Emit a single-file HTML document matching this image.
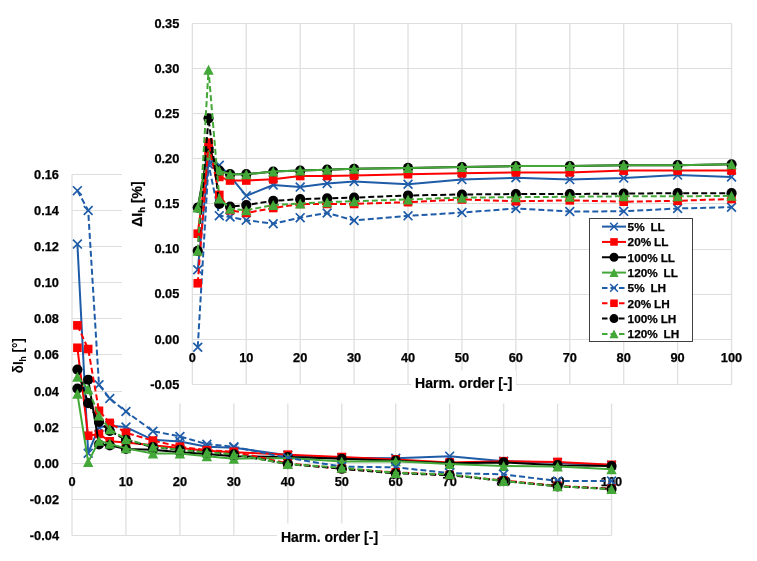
<!DOCTYPE html>
<html><head><meta charset="utf-8"><style>
html,body{margin:0;padding:0;background:#fff;width:757px;height:561px;overflow:hidden}
svg{display:block;filter:blur(0.35px)}
text{font-family:"Liberation Sans",sans-serif;fill:#000}
.tick text{font-size:12.8px;font-weight:bold;stroke:#000;stroke-width:0.25px}
.ttl{font-size:14px;font-weight:bold;stroke:#000;stroke-width:0.2px}
.ttlr{font-size:14px;font-weight:bold}
.sub2{font-size:9px}
.sub{font-size:9.5px}
.leg{font-size:11.8px;word-spacing:-0.4px;font-weight:bold;white-space:pre;stroke:#000;stroke-width:0.25px}
</style></head><body>
<svg width="757" height="561" viewBox="0 0 757 561">
<rect width="757" height="561" fill="#fff"/>
<g><line x1="72" y1="174.5" x2="72" y2="535.5" stroke="#E0E0E0" stroke-width="1.35"/><line x1="125.95" y1="174.5" x2="125.95" y2="535.5" stroke="#E0E0E0" stroke-width="1.35"/><line x1="179.91" y1="174.5" x2="179.91" y2="535.5" stroke="#E0E0E0" stroke-width="1.35"/><line x1="233.87" y1="174.5" x2="233.87" y2="535.5" stroke="#E0E0E0" stroke-width="1.35"/><line x1="287.82" y1="174.5" x2="287.82" y2="535.5" stroke="#E0E0E0" stroke-width="1.35"/><line x1="341.78" y1="174.5" x2="341.78" y2="535.5" stroke="#E0E0E0" stroke-width="1.35"/><line x1="395.73" y1="174.5" x2="395.73" y2="535.5" stroke="#E0E0E0" stroke-width="1.35"/><line x1="449.69" y1="174.5" x2="449.69" y2="535.5" stroke="#E0E0E0" stroke-width="1.35"/><line x1="503.64" y1="174.5" x2="503.64" y2="535.5" stroke="#E0E0E0" stroke-width="1.35"/><line x1="557.6" y1="174.5" x2="557.6" y2="535.5" stroke="#E0E0E0" stroke-width="1.35"/><line x1="611.55" y1="174.5" x2="611.55" y2="535.5" stroke="#E0E0E0" stroke-width="1.35"/><line x1="72" y1="535.5" x2="611.55" y2="535.5" stroke="#DEDEDE" stroke-width="1"/><line x1="72" y1="499.5" x2="611.55" y2="499.5" stroke="#DEDEDE" stroke-width="1"/><line x1="72" y1="463.5" x2="611.55" y2="463.5" stroke="#DEDEDE" stroke-width="1"/><line x1="72" y1="427.5" x2="611.55" y2="427.5" stroke="#DEDEDE" stroke-width="1"/><line x1="72" y1="391.5" x2="611.55" y2="391.5" stroke="#DEDEDE" stroke-width="1"/><line x1="72" y1="354.5" x2="611.55" y2="354.5" stroke="#DEDEDE" stroke-width="1"/><line x1="72" y1="318.5" x2="611.55" y2="318.5" stroke="#DEDEDE" stroke-width="1"/><line x1="72" y1="282.5" x2="611.55" y2="282.5" stroke="#DEDEDE" stroke-width="1"/><line x1="72" y1="246.5" x2="611.55" y2="246.5" stroke="#DEDEDE" stroke-width="1"/><line x1="72" y1="210.5" x2="611.55" y2="210.5" stroke="#DEDEDE" stroke-width="1"/><line x1="72" y1="174.5" x2="611.55" y2="174.5" stroke="#DEDEDE" stroke-width="1"/></g>
<g class="tick"><text x="59" y="539.99" text-anchor="end">-0.04</text><text x="59" y="503.87" text-anchor="end">-0.02</text><text x="59" y="467.75" text-anchor="end">0.00</text><text x="59" y="431.63" text-anchor="end">0.02</text><text x="59" y="395.51" text-anchor="end">0.04</text><text x="59" y="359.39" text-anchor="end">0.06</text><text x="59" y="323.27" text-anchor="end">0.08</text><text x="59" y="287.15" text-anchor="end">0.10</text><text x="59" y="251.03" text-anchor="end">0.12</text><text x="59" y="214.91" text-anchor="end">0.14</text><text x="59" y="178.79" text-anchor="end">0.16</text><text x="72" y="486.4" text-anchor="middle">0</text><text x="125.95" y="486.4" text-anchor="middle">10</text><text x="179.91" y="486.4" text-anchor="middle">20</text><text x="233.87" y="486.4" text-anchor="middle">30</text><text x="287.82" y="486.4" text-anchor="middle">40</text><text x="341.78" y="486.4" text-anchor="middle">50</text><text x="395.73" y="486.4" text-anchor="middle">60</text><text x="449.69" y="486.4" text-anchor="middle">70</text><text x="503.64" y="486.4" text-anchor="middle">80</text><text x="557.6" y="486.4" text-anchor="middle">90</text><text x="611.55" y="486.4" text-anchor="middle">100</text></g>
<path d="M77.4 244.1L88.19 453.24L98.98 427.23L109.77 425.79L125.95 427.05L152.93 439.87L179.91 441.5L206.89 446.73L233.87 447.64L287.82 455.22L341.78 457.75L395.73 458.29L449.69 456.13L503.64 461.18L557.6 462.63L611.55 465.16" stroke="#1F5CA8" stroke-width="2.0" fill="none" stroke-linejoin="round"/>
<path d="M73 239.7L81.8 248.5M73 248.5L81.8 239.7" stroke="#1F5CA8" stroke-width="1.7" fill="none"/>
<path d="M83.79 448.84L92.59 457.64M83.79 457.64L92.59 448.84" stroke="#1F5CA8" stroke-width="1.7" fill="none"/>
<path d="M94.58 422.83L103.38 431.63M94.58 431.63L103.38 422.83" stroke="#1F5CA8" stroke-width="1.7" fill="none"/>
<path d="M105.37 421.39L114.17 430.19M105.37 430.19L114.17 421.39" stroke="#1F5CA8" stroke-width="1.7" fill="none"/>
<path d="M121.55 422.65L130.35 431.45M121.55 431.45L130.35 422.65" stroke="#1F5CA8" stroke-width="1.7" fill="none"/>
<path d="M148.53 435.47L157.33 444.27M148.53 444.27L157.33 435.47" stroke="#1F5CA8" stroke-width="1.7" fill="none"/>
<path d="M175.51 437.1L184.31 445.9M175.51 445.9L184.31 437.1" stroke="#1F5CA8" stroke-width="1.7" fill="none"/>
<path d="M202.49 442.33L211.29 451.13M202.49 451.13L211.29 442.33" stroke="#1F5CA8" stroke-width="1.7" fill="none"/>
<path d="M229.47 443.24L238.27 452.04M229.47 452.04L238.27 443.24" stroke="#1F5CA8" stroke-width="1.7" fill="none"/>
<path d="M283.42 450.82L292.22 459.62M283.42 459.62L292.22 450.82" stroke="#1F5CA8" stroke-width="1.7" fill="none"/>
<path d="M337.38 453.35L346.18 462.15M337.38 462.15L346.18 453.35" stroke="#1F5CA8" stroke-width="1.7" fill="none"/>
<path d="M391.33 453.89L400.13 462.69M391.33 462.69L400.13 453.89" stroke="#1F5CA8" stroke-width="1.7" fill="none"/>
<path d="M445.29 451.73L454.08 460.53M445.29 460.53L454.08 451.73" stroke="#1F5CA8" stroke-width="1.7" fill="none"/>
<path d="M499.24 456.78L508.04 465.58M499.24 465.58L508.04 456.78" stroke="#1F5CA8" stroke-width="1.7" fill="none"/>
<path d="M553.2 458.23L562 467.03M553.2 467.03L562 458.23" stroke="#1F5CA8" stroke-width="1.7" fill="none"/>
<path d="M607.15 460.76L615.95 469.56M607.15 469.56L615.95 460.76" stroke="#1F5CA8" stroke-width="1.7" fill="none"/>
<path d="M77.4 347.77L88.19 435.72L98.98 433.91L109.77 441.32L125.95 442.58L152.93 445.29L179.91 448L206.89 450.71L233.87 452.15L287.82 454.68L341.78 457.03L395.73 459.38L449.69 462.45L503.64 461.18L557.6 461.91L611.55 464.79" stroke="#FF0000" stroke-width="2.0" fill="none" stroke-linejoin="round"/>
<rect x="73.1" y="343.47" width="8.6" height="8.6" fill="#FF0000"/>
<rect x="83.89" y="431.42" width="8.6" height="8.6" fill="#FF0000"/>
<rect x="94.68" y="429.61" width="8.6" height="8.6" fill="#FF0000"/>
<rect x="105.47" y="437.02" width="8.6" height="8.6" fill="#FF0000"/>
<rect x="121.66" y="438.28" width="8.6" height="8.6" fill="#FF0000"/>
<rect x="148.63" y="440.99" width="8.6" height="8.6" fill="#FF0000"/>
<rect x="175.61" y="443.7" width="8.6" height="8.6" fill="#FF0000"/>
<rect x="202.59" y="446.41" width="8.6" height="8.6" fill="#FF0000"/>
<rect x="229.56" y="447.85" width="8.6" height="8.6" fill="#FF0000"/>
<rect x="283.52" y="450.38" width="8.6" height="8.6" fill="#FF0000"/>
<rect x="337.48" y="452.73" width="8.6" height="8.6" fill="#FF0000"/>
<rect x="391.43" y="455.08" width="8.6" height="8.6" fill="#FF0000"/>
<rect x="445.38" y="458.15" width="8.6" height="8.6" fill="#FF0000"/>
<rect x="499.34" y="456.88" width="8.6" height="8.6" fill="#FF0000"/>
<rect x="553.3" y="457.61" width="8.6" height="8.6" fill="#FF0000"/>
<rect x="607.25" y="460.49" width="8.6" height="8.6" fill="#FF0000"/>
<path d="M77.4 388.58L88.19 379.73L98.98 444.39L109.77 445.29L125.95 448.9L152.93 449.81L179.91 452.15L206.89 453.96L233.87 456.13L287.82 457.03L341.78 458.84L395.73 460.64L449.69 463.35L503.64 462.45L557.6 465.16L611.55 466.06" stroke="#000000" stroke-width="2.0" fill="none" stroke-linejoin="round"/>
<circle cx="77.4" cy="388.58" r="5.1" fill="#000000"/>
<circle cx="88.19" cy="379.73" r="5.1" fill="#000000"/>
<circle cx="98.98" cy="444.39" r="5.1" fill="#000000"/>
<circle cx="109.77" cy="445.29" r="5.1" fill="#000000"/>
<circle cx="125.95" cy="448.9" r="5.1" fill="#000000"/>
<circle cx="152.93" cy="449.81" r="5.1" fill="#000000"/>
<circle cx="179.91" cy="452.15" r="5.1" fill="#000000"/>
<circle cx="206.89" cy="453.96" r="5.1" fill="#000000"/>
<circle cx="233.87" cy="456.13" r="5.1" fill="#000000"/>
<circle cx="287.82" cy="457.03" r="5.1" fill="#000000"/>
<circle cx="341.78" cy="458.84" r="5.1" fill="#000000"/>
<circle cx="395.73" cy="460.64" r="5.1" fill="#000000"/>
<circle cx="449.69" cy="463.35" r="5.1" fill="#000000"/>
<circle cx="503.64" cy="462.45" r="5.1" fill="#000000"/>
<circle cx="557.6" cy="465.16" r="5.1" fill="#000000"/>
<circle cx="611.55" cy="466.06" r="5.1" fill="#000000"/>
<path d="M77.4 393.82L88.19 462.09L98.98 440.78L109.77 443.85L125.95 448.36L152.93 453.6L179.91 453.6L206.89 456.13L233.87 458.65L287.82 457.93L341.78 461.54L395.73 461.18L449.69 463.89L503.64 466.06L557.6 466.6L611.55 469.13" stroke="#44A838" stroke-width="2.0" fill="none" stroke-linejoin="round"/>
<path d="M77.4 388.82L82.6 398.82L72.2 398.82Z" fill="#44A838"/>
<path d="M88.19 457.09L93.39 467.09L82.99 467.09Z" fill="#44A838"/>
<path d="M98.98 435.78L104.18 445.78L93.78 445.78Z" fill="#44A838"/>
<path d="M109.77 438.85L114.97 448.85L104.57 448.85Z" fill="#44A838"/>
<path d="M125.95 443.36L131.16 453.36L120.75 453.36Z" fill="#44A838"/>
<path d="M152.93 448.6L158.13 458.6L147.73 458.6Z" fill="#44A838"/>
<path d="M179.91 448.6L185.11 458.6L174.71 458.6Z" fill="#44A838"/>
<path d="M206.89 451.13L212.09 461.13L201.69 461.13Z" fill="#44A838"/>
<path d="M233.87 453.65L239.06 463.65L228.67 463.65Z" fill="#44A838"/>
<path d="M287.82 452.93L293.02 462.93L282.62 462.93Z" fill="#44A838"/>
<path d="M341.78 456.54L346.98 466.54L336.58 466.54Z" fill="#44A838"/>
<path d="M395.73 456.18L400.93 466.18L390.53 466.18Z" fill="#44A838"/>
<path d="M449.69 458.89L454.88 468.89L444.49 468.89Z" fill="#44A838"/>
<path d="M503.64 461.06L508.84 471.06L498.44 471.06Z" fill="#44A838"/>
<path d="M557.6 461.6L562.8 471.6L552.39 471.6Z" fill="#44A838"/>
<path d="M611.55 464.13L616.75 474.13L606.35 474.13Z" fill="#44A838"/>
<path d="M77.4 190.64L88.19 210.51L98.98 384.79L109.77 398.51L125.95 411.52L152.93 431.2L179.91 436.44L206.89 444.21L233.87 446.73L287.82 457.93L341.78 466.6L395.73 467.32L449.69 473.1L503.64 474.37L557.6 481.05L611.55 481.05" stroke="#1F5CA8" stroke-width="2.0" fill="none" stroke-linejoin="round" stroke-dasharray="6 3"/>
<path d="M73 186.24L81.8 195.04M73 195.04L81.8 186.24" stroke="#1F5CA8" stroke-width="1.7" fill="none"/>
<path d="M83.79 206.11L92.59 214.91M83.79 214.91L92.59 206.11" stroke="#1F5CA8" stroke-width="1.7" fill="none"/>
<path d="M94.58 380.39L103.38 389.19M94.58 389.19L103.38 380.39" stroke="#1F5CA8" stroke-width="1.7" fill="none"/>
<path d="M105.37 394.11L114.17 402.91M105.37 402.91L114.17 394.11" stroke="#1F5CA8" stroke-width="1.7" fill="none"/>
<path d="M121.55 407.12L130.35 415.92M121.55 415.92L130.35 407.12" stroke="#1F5CA8" stroke-width="1.7" fill="none"/>
<path d="M148.53 426.8L157.33 435.6M148.53 435.6L157.33 426.8" stroke="#1F5CA8" stroke-width="1.7" fill="none"/>
<path d="M175.51 432.04L184.31 440.84M175.51 440.84L184.31 432.04" stroke="#1F5CA8" stroke-width="1.7" fill="none"/>
<path d="M202.49 439.81L211.29 448.61M202.49 448.61L211.29 439.81" stroke="#1F5CA8" stroke-width="1.7" fill="none"/>
<path d="M229.47 442.33L238.27 451.13M229.47 451.13L238.27 442.33" stroke="#1F5CA8" stroke-width="1.7" fill="none"/>
<path d="M283.42 453.53L292.22 462.33M283.42 462.33L292.22 453.53" stroke="#1F5CA8" stroke-width="1.7" fill="none"/>
<path d="M337.38 462.2L346.18 471M337.38 471L346.18 462.2" stroke="#1F5CA8" stroke-width="1.7" fill="none"/>
<path d="M391.33 462.92L400.13 471.72M391.33 471.72L400.13 462.92" stroke="#1F5CA8" stroke-width="1.7" fill="none"/>
<path d="M445.29 468.7L454.08 477.5M445.29 477.5L454.08 468.7" stroke="#1F5CA8" stroke-width="1.7" fill="none"/>
<path d="M499.24 469.97L508.04 478.77M499.24 478.77L508.04 469.97" stroke="#1F5CA8" stroke-width="1.7" fill="none"/>
<path d="M553.2 476.65L562 485.45M553.2 485.45L562 476.65" stroke="#1F5CA8" stroke-width="1.7" fill="none"/>
<path d="M607.15 476.65L615.95 485.45M607.15 485.45L615.95 476.65" stroke="#1F5CA8" stroke-width="1.7" fill="none"/>
<path d="M77.4 325.37L88.19 349.03L98.98 410.8L109.77 422.9L125.95 432.83L152.93 440.59L179.91 446.73L206.89 450.17L233.87 451.79L287.82 463.35L341.78 468.77L395.73 472.38L449.69 475.09L503.64 480.51L557.6 485.93L611.55 488.63" stroke="#FF0000" stroke-width="2.0" fill="none" stroke-linejoin="round" stroke-dasharray="6 3"/>
<rect x="73.1" y="321.07" width="8.6" height="8.6" fill="#FF0000"/>
<rect x="83.89" y="344.73" width="8.6" height="8.6" fill="#FF0000"/>
<rect x="94.68" y="406.5" width="8.6" height="8.6" fill="#FF0000"/>
<rect x="105.47" y="418.6" width="8.6" height="8.6" fill="#FF0000"/>
<rect x="121.66" y="428.53" width="8.6" height="8.6" fill="#FF0000"/>
<rect x="148.63" y="436.29" width="8.6" height="8.6" fill="#FF0000"/>
<rect x="175.61" y="442.43" width="8.6" height="8.6" fill="#FF0000"/>
<rect x="202.59" y="445.87" width="8.6" height="8.6" fill="#FF0000"/>
<rect x="229.56" y="447.49" width="8.6" height="8.6" fill="#FF0000"/>
<rect x="283.52" y="459.05" width="8.6" height="8.6" fill="#FF0000"/>
<rect x="337.48" y="464.47" width="8.6" height="8.6" fill="#FF0000"/>
<rect x="391.43" y="468.08" width="8.6" height="8.6" fill="#FF0000"/>
<rect x="445.38" y="470.79" width="8.6" height="8.6" fill="#FF0000"/>
<rect x="499.34" y="476.21" width="8.6" height="8.6" fill="#FF0000"/>
<rect x="553.3" y="481.62" width="8.6" height="8.6" fill="#FF0000"/>
<rect x="607.25" y="484.33" width="8.6" height="8.6" fill="#FF0000"/>
<path d="M77.4 369.62L88.19 403.21L98.98 421.81L109.77 430.84L125.95 439.87L152.93 447.1L179.91 449.81L206.89 452.51L233.87 454.32L287.82 464.07L341.78 468.77L395.73 473.28L449.69 475.09L503.64 481.05L557.6 486.29L611.55 489" stroke="#000000" stroke-width="2.0" fill="none" stroke-linejoin="round" stroke-dasharray="6 3"/>
<circle cx="77.4" cy="369.62" r="5.1" fill="#000000"/>
<circle cx="88.19" cy="403.21" r="5.1" fill="#000000"/>
<circle cx="98.98" cy="421.81" r="5.1" fill="#000000"/>
<circle cx="109.77" cy="430.84" r="5.1" fill="#000000"/>
<circle cx="125.95" cy="439.87" r="5.1" fill="#000000"/>
<circle cx="152.93" cy="447.1" r="5.1" fill="#000000"/>
<circle cx="179.91" cy="449.81" r="5.1" fill="#000000"/>
<circle cx="206.89" cy="452.51" r="5.1" fill="#000000"/>
<circle cx="233.87" cy="454.32" r="5.1" fill="#000000"/>
<circle cx="287.82" cy="464.07" r="5.1" fill="#000000"/>
<circle cx="341.78" cy="468.77" r="5.1" fill="#000000"/>
<circle cx="395.73" cy="473.28" r="5.1" fill="#000000"/>
<circle cx="449.69" cy="475.09" r="5.1" fill="#000000"/>
<circle cx="503.64" cy="481.05" r="5.1" fill="#000000"/>
<circle cx="557.6" cy="486.29" r="5.1" fill="#000000"/>
<circle cx="611.55" cy="489" r="5.1" fill="#000000"/>
<path d="M77.4 376.84L88.19 389.3L98.98 415.49L109.77 429.22L125.95 439.15L152.93 446.73L179.91 449.81L206.89 452.51L233.87 454.32L287.82 464.07L341.78 467.68L395.73 472.92L449.69 474.37L503.64 481.05L557.6 486.29L611.55 489" stroke="#44A838" stroke-width="2.0" fill="none" stroke-linejoin="round" stroke-dasharray="6 3"/>
<path d="M77.4 371.84L82.6 381.84L72.2 381.84Z" fill="#44A838"/>
<path d="M88.19 384.3L93.39 394.3L82.99 394.3Z" fill="#44A838"/>
<path d="M98.98 410.49L104.18 420.49L93.78 420.49Z" fill="#44A838"/>
<path d="M109.77 424.22L114.97 434.22L104.57 434.22Z" fill="#44A838"/>
<path d="M125.95 434.15L131.16 444.15L120.75 444.15Z" fill="#44A838"/>
<path d="M152.93 441.73L158.13 451.73L147.73 451.73Z" fill="#44A838"/>
<path d="M179.91 444.81L185.11 454.81L174.71 454.81Z" fill="#44A838"/>
<path d="M206.89 447.51L212.09 457.51L201.69 457.51Z" fill="#44A838"/>
<path d="M233.87 449.32L239.06 459.32L228.67 459.32Z" fill="#44A838"/>
<path d="M287.82 459.07L293.02 469.07L282.62 469.07Z" fill="#44A838"/>
<path d="M341.78 462.68L346.98 472.68L336.58 472.68Z" fill="#44A838"/>
<path d="M395.73 467.92L400.93 477.92L390.53 477.92Z" fill="#44A838"/>
<path d="M449.69 469.37L454.88 479.37L444.49 479.37Z" fill="#44A838"/>
<path d="M503.64 476.05L508.84 486.05L498.44 486.05Z" fill="#44A838"/>
<path d="M557.6 481.29L562.8 491.29L552.39 491.29Z" fill="#44A838"/>
<path d="M611.55 484L616.75 494L606.35 494Z" fill="#44A838"/>
<rect x="277" y="523.5" width="105.5" height="24" fill="#fff"/>
<text class="ttl" x="329.5" y="541.5" text-anchor="middle">Harm. order [-]</text>
<text class="ttlr" transform="translate(23.3 373.2) rotate(-90) scale(0.955 1)">δI<tspan class="sub2" dy="2.7">h</tspan><tspan dy="-2.7"> [°]</tspan></text>
<rect x="122" y="0" width="635" height="403.5" fill="#fff"/>
<g><line x1="192.35" y1="23.5" x2="192.35" y2="384.5" stroke="#E0E0E0" stroke-width="1.35"/><line x1="246.27" y1="23.5" x2="246.27" y2="384.5" stroke="#E0E0E0" stroke-width="1.35"/><line x1="300.19" y1="23.5" x2="300.19" y2="384.5" stroke="#E0E0E0" stroke-width="1.35"/><line x1="354.11" y1="23.5" x2="354.11" y2="384.5" stroke="#E0E0E0" stroke-width="1.35"/><line x1="408.03" y1="23.5" x2="408.03" y2="384.5" stroke="#E0E0E0" stroke-width="1.35"/><line x1="461.95" y1="23.5" x2="461.95" y2="384.5" stroke="#E0E0E0" stroke-width="1.35"/><line x1="515.87" y1="23.5" x2="515.87" y2="384.5" stroke="#E0E0E0" stroke-width="1.35"/><line x1="569.79" y1="23.5" x2="569.79" y2="384.5" stroke="#E0E0E0" stroke-width="1.35"/><line x1="623.71" y1="23.5" x2="623.71" y2="384.5" stroke="#E0E0E0" stroke-width="1.35"/><line x1="677.63" y1="23.5" x2="677.63" y2="384.5" stroke="#E0E0E0" stroke-width="1.35"/><line x1="731.55" y1="23.5" x2="731.55" y2="384.5" stroke="#E0E0E0" stroke-width="1.35"/><line x1="192.35" y1="384.5" x2="731.55" y2="384.5" stroke="#DEDEDE" stroke-width="1"/><line x1="192.35" y1="339.5" x2="731.55" y2="339.5" stroke="#DEDEDE" stroke-width="1"/><line x1="192.35" y1="294.5" x2="731.55" y2="294.5" stroke="#DEDEDE" stroke-width="1"/><line x1="192.35" y1="249.5" x2="731.55" y2="249.5" stroke="#DEDEDE" stroke-width="1"/><line x1="192.35" y1="203.5" x2="731.55" y2="203.5" stroke="#DEDEDE" stroke-width="1"/><line x1="192.35" y1="158.5" x2="731.55" y2="158.5" stroke="#DEDEDE" stroke-width="1"/><line x1="192.35" y1="113.5" x2="731.55" y2="113.5" stroke="#DEDEDE" stroke-width="1"/><line x1="192.35" y1="68.5" x2="731.55" y2="68.5" stroke="#DEDEDE" stroke-width="1"/><line x1="192.35" y1="23.5" x2="731.55" y2="23.5" stroke="#DEDEDE" stroke-width="1"/></g>
<g class="tick"><text x="179.3" y="388.6" text-anchor="end">-0.05</text><text x="179.3" y="343.54" text-anchor="end">0.00</text><text x="179.3" y="298.48" text-anchor="end">0.05</text><text x="179.3" y="253.41" text-anchor="end">0.10</text><text x="179.3" y="208.35" text-anchor="end">0.15</text><text x="179.3" y="163.29" text-anchor="end">0.20</text><text x="179.3" y="118.23" text-anchor="end">0.25</text><text x="179.3" y="73.16" text-anchor="end">0.30</text><text x="179.3" y="28.1" text-anchor="end">0.35</text><text x="192.35" y="362.4" text-anchor="middle">0</text><text x="246.27" y="362.4" text-anchor="middle">10</text><text x="300.19" y="362.4" text-anchor="middle">20</text><text x="354.11" y="362.4" text-anchor="middle">30</text><text x="408.03" y="362.4" text-anchor="middle">40</text><text x="461.95" y="362.4" text-anchor="middle">50</text><text x="515.87" y="362.4" text-anchor="middle">60</text><text x="569.79" y="362.4" text-anchor="middle">70</text><text x="623.71" y="362.4" text-anchor="middle">80</text><text x="677.63" y="362.4" text-anchor="middle">90</text><text x="731.55" y="362.4" text-anchor="middle">100</text></g>
<path d="M197.74 269.74L208.53 161.59L219.31 165.2L230.09 176.01L246.27 195.84L273.23 185.03L300.19 187.1L327.15 183.4L354.11 181.42L408.03 184.31L461.95 179.62L515.87 177.82L569.79 179.62L623.71 178.09L677.63 175.11L731.55 176.91" stroke="#1F5CA8" stroke-width="2.0" fill="none" stroke-linejoin="round"/>
<path d="M193.34 265.34L202.14 274.14M193.34 274.14L202.14 265.34" stroke="#1F5CA8" stroke-width="1.7" fill="none"/>
<path d="M204.13 157.19L212.93 165.99M204.13 165.99L212.93 157.19" stroke="#1F5CA8" stroke-width="1.7" fill="none"/>
<path d="M214.91 160.8L223.71 169.6M214.91 169.6L223.71 160.8" stroke="#1F5CA8" stroke-width="1.7" fill="none"/>
<path d="M225.69 171.61L234.49 180.41M225.69 180.41L234.49 171.61" stroke="#1F5CA8" stroke-width="1.7" fill="none"/>
<path d="M241.87 191.44L250.67 200.24M241.87 200.24L250.67 191.44" stroke="#1F5CA8" stroke-width="1.7" fill="none"/>
<path d="M268.83 180.63L277.63 189.43M268.83 189.43L277.63 180.63" stroke="#1F5CA8" stroke-width="1.7" fill="none"/>
<path d="M295.79 182.7L304.59 191.5M295.79 191.5L304.59 182.7" stroke="#1F5CA8" stroke-width="1.7" fill="none"/>
<path d="M322.75 179L331.55 187.8M322.75 187.8L331.55 179" stroke="#1F5CA8" stroke-width="1.7" fill="none"/>
<path d="M349.71 177.02L358.51 185.82M349.71 185.82L358.51 177.02" stroke="#1F5CA8" stroke-width="1.7" fill="none"/>
<path d="M403.63 179.91L412.43 188.71M403.63 188.71L412.43 179.91" stroke="#1F5CA8" stroke-width="1.7" fill="none"/>
<path d="M457.55 175.22L466.35 184.02M457.55 184.02L466.35 175.22" stroke="#1F5CA8" stroke-width="1.7" fill="none"/>
<path d="M511.47 173.42L520.27 182.22M511.47 182.22L520.27 173.42" stroke="#1F5CA8" stroke-width="1.7" fill="none"/>
<path d="M565.39 175.22L574.19 184.02M565.39 184.02L574.19 175.22" stroke="#1F5CA8" stroke-width="1.7" fill="none"/>
<path d="M619.31 173.69L628.11 182.49M619.31 182.49L628.11 173.69" stroke="#1F5CA8" stroke-width="1.7" fill="none"/>
<path d="M673.23 170.71L682.03 179.51M673.23 179.51L682.03 170.71" stroke="#1F5CA8" stroke-width="1.7" fill="none"/>
<path d="M727.15 172.51L735.95 181.31M727.15 181.31L735.95 172.51" stroke="#1F5CA8" stroke-width="1.7" fill="none"/>
<path d="M197.74 233.69L208.53 151.68L219.31 176.91L230.09 180.52L246.27 180.52L273.23 179.35L300.19 176.01L327.15 176.01L354.11 175.56L408.03 174.21L461.95 173.31L515.87 172.41L569.79 172.41L623.71 170.61L677.63 170.61L731.55 170.61" stroke="#FF0000" stroke-width="2.0" fill="none" stroke-linejoin="round"/>
<rect x="193.44" y="229.39" width="8.6" height="8.6" fill="#FF0000"/>
<rect x="204.23" y="147.38" width="8.6" height="8.6" fill="#FF0000"/>
<rect x="215.01" y="172.61" width="8.6" height="8.6" fill="#FF0000"/>
<rect x="225.79" y="176.22" width="8.6" height="8.6" fill="#FF0000"/>
<rect x="241.97" y="176.22" width="8.6" height="8.6" fill="#FF0000"/>
<rect x="268.93" y="175.05" width="8.6" height="8.6" fill="#FF0000"/>
<rect x="295.89" y="171.71" width="8.6" height="8.6" fill="#FF0000"/>
<rect x="322.85" y="171.71" width="8.6" height="8.6" fill="#FF0000"/>
<rect x="349.81" y="171.26" width="8.6" height="8.6" fill="#FF0000"/>
<rect x="403.73" y="169.91" width="8.6" height="8.6" fill="#FF0000"/>
<rect x="457.65" y="169.01" width="8.6" height="8.6" fill="#FF0000"/>
<rect x="511.57" y="168.11" width="8.6" height="8.6" fill="#FF0000"/>
<rect x="565.49" y="168.11" width="8.6" height="8.6" fill="#FF0000"/>
<rect x="619.41" y="166.31" width="8.6" height="8.6" fill="#FF0000"/>
<rect x="673.33" y="166.31" width="8.6" height="8.6" fill="#FF0000"/>
<rect x="727.25" y="166.31" width="8.6" height="8.6" fill="#FF0000"/>
<path d="M197.74 207.56L208.53 148.07L219.31 170.61L230.09 174.21L246.27 174.21L273.23 171.51L300.19 170.61L327.15 169.7L354.11 168.8L408.03 167.9L461.95 167L515.87 166.1L569.79 166.1L623.71 165.2L677.63 165.2L731.55 164.3" stroke="#000000" stroke-width="2.0" fill="none" stroke-linejoin="round"/>
<circle cx="197.74" cy="207.56" r="5.1" fill="#000000"/>
<circle cx="208.53" cy="148.07" r="5.1" fill="#000000"/>
<circle cx="219.31" cy="170.61" r="5.1" fill="#000000"/>
<circle cx="230.09" cy="174.21" r="5.1" fill="#000000"/>
<circle cx="246.27" cy="174.21" r="5.1" fill="#000000"/>
<circle cx="273.23" cy="171.51" r="5.1" fill="#000000"/>
<circle cx="300.19" cy="170.61" r="5.1" fill="#000000"/>
<circle cx="327.15" cy="169.7" r="5.1" fill="#000000"/>
<circle cx="354.11" cy="168.8" r="5.1" fill="#000000"/>
<circle cx="408.03" cy="167.9" r="5.1" fill="#000000"/>
<circle cx="461.95" cy="167" r="5.1" fill="#000000"/>
<circle cx="515.87" cy="166.1" r="5.1" fill="#000000"/>
<circle cx="569.79" cy="166.1" r="5.1" fill="#000000"/>
<circle cx="623.71" cy="165.2" r="5.1" fill="#000000"/>
<circle cx="677.63" cy="165.2" r="5.1" fill="#000000"/>
<circle cx="731.55" cy="164.3" r="5.1" fill="#000000"/>
<path d="M197.74 207.56L208.53 154.38L219.31 170.61L230.09 174.21L246.27 174.21L273.23 171.51L300.19 170.61L327.15 169.7L354.11 168.8L408.03 167.9L461.95 167L515.87 166.1L569.79 166.1L623.71 165.2L677.63 165.2L731.55 164.3" stroke="#44A838" stroke-width="2.0" fill="none" stroke-linejoin="round"/>
<path d="M197.74 202.56L202.94 212.56L192.54 212.56Z" fill="#44A838"/>
<path d="M208.53 149.38L213.73 159.38L203.33 159.38Z" fill="#44A838"/>
<path d="M219.31 165.61L224.51 175.61L214.11 175.61Z" fill="#44A838"/>
<path d="M230.09 169.21L235.29 179.21L224.89 179.21Z" fill="#44A838"/>
<path d="M246.27 169.21L251.47 179.21L241.07 179.21Z" fill="#44A838"/>
<path d="M273.23 166.51L278.43 176.51L268.03 176.51Z" fill="#44A838"/>
<path d="M300.19 165.61L305.39 175.61L294.99 175.61Z" fill="#44A838"/>
<path d="M327.15 164.7L332.35 174.7L321.95 174.7Z" fill="#44A838"/>
<path d="M354.11 163.8L359.31 173.8L348.91 173.8Z" fill="#44A838"/>
<path d="M408.03 162.9L413.23 172.9L402.83 172.9Z" fill="#44A838"/>
<path d="M461.95 162L467.15 172L456.75 172Z" fill="#44A838"/>
<path d="M515.87 161.1L521.07 171.1L510.67 171.1Z" fill="#44A838"/>
<path d="M569.79 161.1L574.99 171.1L564.59 171.1Z" fill="#44A838"/>
<path d="M623.71 160.2L628.91 170.2L618.51 170.2Z" fill="#44A838"/>
<path d="M677.63 160.2L682.83 170.2L672.43 170.2Z" fill="#44A838"/>
<path d="M731.55 159.3L736.75 169.3L726.35 169.3Z" fill="#44A838"/>
<path d="M197.74 347.25L208.53 164.3L219.31 215.67L230.09 217.02L246.27 220.17L273.23 223.78L300.19 217.65L327.15 212.96L354.11 220.45L408.03 215.85L461.95 212.6L515.87 208.46L569.79 211.43L623.71 211.34L677.63 208.46L731.55 207.2" stroke="#1F5CA8" stroke-width="2.0" fill="none" stroke-linejoin="round" stroke-dasharray="6 3"/>
<path d="M193.34 342.85L202.14 351.65M193.34 351.65L202.14 342.85" stroke="#1F5CA8" stroke-width="1.7" fill="none"/>
<path d="M204.13 159.9L212.93 168.7M204.13 168.7L212.93 159.9" stroke="#1F5CA8" stroke-width="1.7" fill="none"/>
<path d="M214.91 211.27L223.71 220.07M214.91 220.07L223.71 211.27" stroke="#1F5CA8" stroke-width="1.7" fill="none"/>
<path d="M225.69 212.62L234.49 221.42M225.69 221.42L234.49 212.62" stroke="#1F5CA8" stroke-width="1.7" fill="none"/>
<path d="M241.87 215.77L250.67 224.57M241.87 224.57L250.67 215.77" stroke="#1F5CA8" stroke-width="1.7" fill="none"/>
<path d="M268.83 219.38L277.63 228.18M268.83 228.18L277.63 219.38" stroke="#1F5CA8" stroke-width="1.7" fill="none"/>
<path d="M295.79 213.25L304.59 222.05M295.79 222.05L304.59 213.25" stroke="#1F5CA8" stroke-width="1.7" fill="none"/>
<path d="M322.75 208.56L331.55 217.36M322.75 217.36L331.55 208.56" stroke="#1F5CA8" stroke-width="1.7" fill="none"/>
<path d="M349.71 216.05L358.51 224.85M349.71 224.85L358.51 216.05" stroke="#1F5CA8" stroke-width="1.7" fill="none"/>
<path d="M403.63 211.45L412.43 220.25M403.63 220.25L412.43 211.45" stroke="#1F5CA8" stroke-width="1.7" fill="none"/>
<path d="M457.55 208.2L466.35 217M457.55 217L466.35 208.2" stroke="#1F5CA8" stroke-width="1.7" fill="none"/>
<path d="M511.47 204.06L520.27 212.86M511.47 212.86L520.27 204.06" stroke="#1F5CA8" stroke-width="1.7" fill="none"/>
<path d="M565.39 207.03L574.19 215.83M565.39 215.83L574.19 207.03" stroke="#1F5CA8" stroke-width="1.7" fill="none"/>
<path d="M619.31 206.94L628.11 215.74M619.31 215.74L628.11 206.94" stroke="#1F5CA8" stroke-width="1.7" fill="none"/>
<path d="M673.23 204.06L682.03 212.86M673.23 212.86L682.03 204.06" stroke="#1F5CA8" stroke-width="1.7" fill="none"/>
<path d="M727.15 202.8L735.95 211.6M727.15 211.6L735.95 202.8" stroke="#1F5CA8" stroke-width="1.7" fill="none"/>
<path d="M197.74 283.26L208.53 142.67L219.31 194.94L230.09 210.26L246.27 212.96L273.23 208.01L300.19 203.95L327.15 203.95L354.11 203.95L408.03 202.15L461.95 199.45L515.87 201.25L569.79 200.35L623.71 201.7L677.63 200.8L731.55 199" stroke="#FF0000" stroke-width="2.0" fill="none" stroke-linejoin="round" stroke-dasharray="6 3"/>
<rect x="193.44" y="278.96" width="8.6" height="8.6" fill="#FF0000"/>
<rect x="204.23" y="138.37" width="8.6" height="8.6" fill="#FF0000"/>
<rect x="215.01" y="190.64" width="8.6" height="8.6" fill="#FF0000"/>
<rect x="225.79" y="205.96" width="8.6" height="8.6" fill="#FF0000"/>
<rect x="241.97" y="208.66" width="8.6" height="8.6" fill="#FF0000"/>
<rect x="268.93" y="203.71" width="8.6" height="8.6" fill="#FF0000"/>
<rect x="295.89" y="199.65" width="8.6" height="8.6" fill="#FF0000"/>
<rect x="322.85" y="199.65" width="8.6" height="8.6" fill="#FF0000"/>
<rect x="349.81" y="199.65" width="8.6" height="8.6" fill="#FF0000"/>
<rect x="403.73" y="197.85" width="8.6" height="8.6" fill="#FF0000"/>
<rect x="457.65" y="195.15" width="8.6" height="8.6" fill="#FF0000"/>
<rect x="511.57" y="196.95" width="8.6" height="8.6" fill="#FF0000"/>
<rect x="565.49" y="196.05" width="8.6" height="8.6" fill="#FF0000"/>
<rect x="619.41" y="197.4" width="8.6" height="8.6" fill="#FF0000"/>
<rect x="673.33" y="196.5" width="8.6" height="8.6" fill="#FF0000"/>
<rect x="727.25" y="194.7" width="8.6" height="8.6" fill="#FF0000"/>
<path d="M197.74 250.82L208.53 118.33L219.31 203.95L230.09 206.66L246.27 205.03L273.23 200.8L300.19 199.18L327.15 198.27L354.11 197.64L408.03 195.48L461.95 194.49L515.87 194.04L569.79 194.04L623.71 193.59L677.63 193.14L731.55 193.14" stroke="#000000" stroke-width="2.0" fill="none" stroke-linejoin="round" stroke-dasharray="6 3"/>
<circle cx="197.74" cy="250.82" r="5.1" fill="#000000"/>
<circle cx="208.53" cy="118.33" r="5.1" fill="#000000"/>
<circle cx="219.31" cy="203.95" r="5.1" fill="#000000"/>
<circle cx="230.09" cy="206.66" r="5.1" fill="#000000"/>
<circle cx="246.27" cy="205.03" r="5.1" fill="#000000"/>
<circle cx="273.23" cy="200.8" r="5.1" fill="#000000"/>
<circle cx="300.19" cy="199.18" r="5.1" fill="#000000"/>
<circle cx="327.15" cy="198.27" r="5.1" fill="#000000"/>
<circle cx="354.11" cy="197.64" r="5.1" fill="#000000"/>
<circle cx="408.03" cy="195.48" r="5.1" fill="#000000"/>
<circle cx="461.95" cy="194.49" r="5.1" fill="#000000"/>
<circle cx="515.87" cy="194.04" r="5.1" fill="#000000"/>
<circle cx="569.79" cy="194.04" r="5.1" fill="#000000"/>
<circle cx="623.71" cy="193.59" r="5.1" fill="#000000"/>
<circle cx="677.63" cy="193.14" r="5.1" fill="#000000"/>
<circle cx="731.55" cy="193.14" r="5.1" fill="#000000"/>
<path d="M197.74 250.82L208.53 69.67L219.31 198.54L230.09 208.64L246.27 210.26L273.23 205.03L300.19 203.5L327.15 202.15L354.11 201.25L408.03 199.45L461.95 197.64L515.87 197.19L569.79 196.74L623.71 196.29L677.63 196.29L731.55 195.84" stroke="#44A838" stroke-width="2.0" fill="none" stroke-linejoin="round" stroke-dasharray="6 3"/>
<path d="M197.74 245.82L202.94 255.82L192.54 255.82Z" fill="#44A838"/>
<path d="M208.53 64.67L213.73 74.67L203.33 74.67Z" fill="#44A838"/>
<path d="M219.31 193.54L224.51 203.54L214.11 203.54Z" fill="#44A838"/>
<path d="M230.09 203.64L235.29 213.64L224.89 213.64Z" fill="#44A838"/>
<path d="M246.27 205.26L251.47 215.26L241.07 215.26Z" fill="#44A838"/>
<path d="M273.23 200.03L278.43 210.03L268.03 210.03Z" fill="#44A838"/>
<path d="M300.19 198.5L305.39 208.5L294.99 208.5Z" fill="#44A838"/>
<path d="M327.15 197.15L332.35 207.15L321.95 207.15Z" fill="#44A838"/>
<path d="M354.11 196.25L359.31 206.25L348.91 206.25Z" fill="#44A838"/>
<path d="M408.03 194.45L413.23 204.45L402.83 204.45Z" fill="#44A838"/>
<path d="M461.95 192.64L467.15 202.64L456.75 202.64Z" fill="#44A838"/>
<path d="M515.87 192.19L521.07 202.19L510.67 202.19Z" fill="#44A838"/>
<path d="M569.79 191.74L574.99 201.74L564.59 201.74Z" fill="#44A838"/>
<path d="M623.71 191.29L628.91 201.29L618.51 201.29Z" fill="#44A838"/>
<path d="M677.63 191.29L682.83 201.29L672.43 201.29Z" fill="#44A838"/>
<path d="M731.55 190.84L736.75 200.84L726.35 200.84Z" fill="#44A838"/>
<rect x="411.5" y="370.5" width="104.5" height="22" fill="#fff"/>
<text class="ttl" x="463.7" y="388" text-anchor="middle">Harm. order [-]</text>
<text class="ttl" transform="translate(142.3 204) rotate(-90)" text-anchor="middle">ΔI<tspan class="sub" dy="3">h</tspan><tspan dy="-3"> [%]</tspan></text>
<rect x="589.5" y="218.5" width="103.0" height="123.0" fill="#fff" stroke="#404040" stroke-width="1"/><path d="M602 226.6H626" stroke="#1F5CA8" stroke-width="2" fill="none"/><path d="M610.13 222.73L617.87 230.47M610.13 230.47L617.87 222.73" stroke="#1F5CA8" stroke-width="1.5" fill="none"/><text class="leg" x="627.6" y="230.9" xml:space="preserve">5%  LL</text><path d="M602 241.93H626" stroke="#FF0000" stroke-width="2" fill="none"/><rect x="610.22" y="238.15" width="7.57" height="7.57" fill="#FF0000"/><text class="leg" x="627.6" y="246.23" xml:space="preserve">20% LL</text><path d="M602 257.26H626" stroke="#000000" stroke-width="2" fill="none"/><circle cx="614" cy="257.26" r="4.49" fill="#000000"/><text class="leg" x="627.6" y="261.56" xml:space="preserve">100% LL</text><path d="M602 272.59H626" stroke="#44A838" stroke-width="2" fill="none"/><path d="M614 268.19L618.58 276.99L609.42 276.99Z" fill="#44A838"/><text class="leg" x="627.6" y="276.89" xml:space="preserve">120%  LL</text><path d="M602 287.92H626" stroke="#1F5CA8" stroke-width="2" stroke-dasharray="5.5 3" fill="none"/><path d="M610.13 284.05L617.87 291.79M610.13 291.79L617.87 284.05" stroke="#1F5CA8" stroke-width="1.5" fill="none"/><text class="leg" x="627.6" y="292.22" xml:space="preserve">5%  LH</text><path d="M602 303.25H626" stroke="#FF0000" stroke-width="2" stroke-dasharray="5.5 3" fill="none"/><rect x="610.22" y="299.47" width="7.57" height="7.57" fill="#FF0000"/><text class="leg" x="627.6" y="307.55" xml:space="preserve">20% LH</text><path d="M602 318.58H626" stroke="#000000" stroke-width="2" stroke-dasharray="5.5 3" fill="none"/><circle cx="614" cy="318.58" r="4.49" fill="#000000"/><text class="leg" x="627.6" y="322.88" xml:space="preserve">100% LH</text><path d="M602 333.91H626" stroke="#44A838" stroke-width="2" stroke-dasharray="5.5 3" fill="none"/><path d="M614 329.51L618.58 338.31L609.42 338.31Z" fill="#44A838"/><text class="leg" x="627.6" y="338.21" xml:space="preserve">120%  LH</text>
</svg>
</body></html>
